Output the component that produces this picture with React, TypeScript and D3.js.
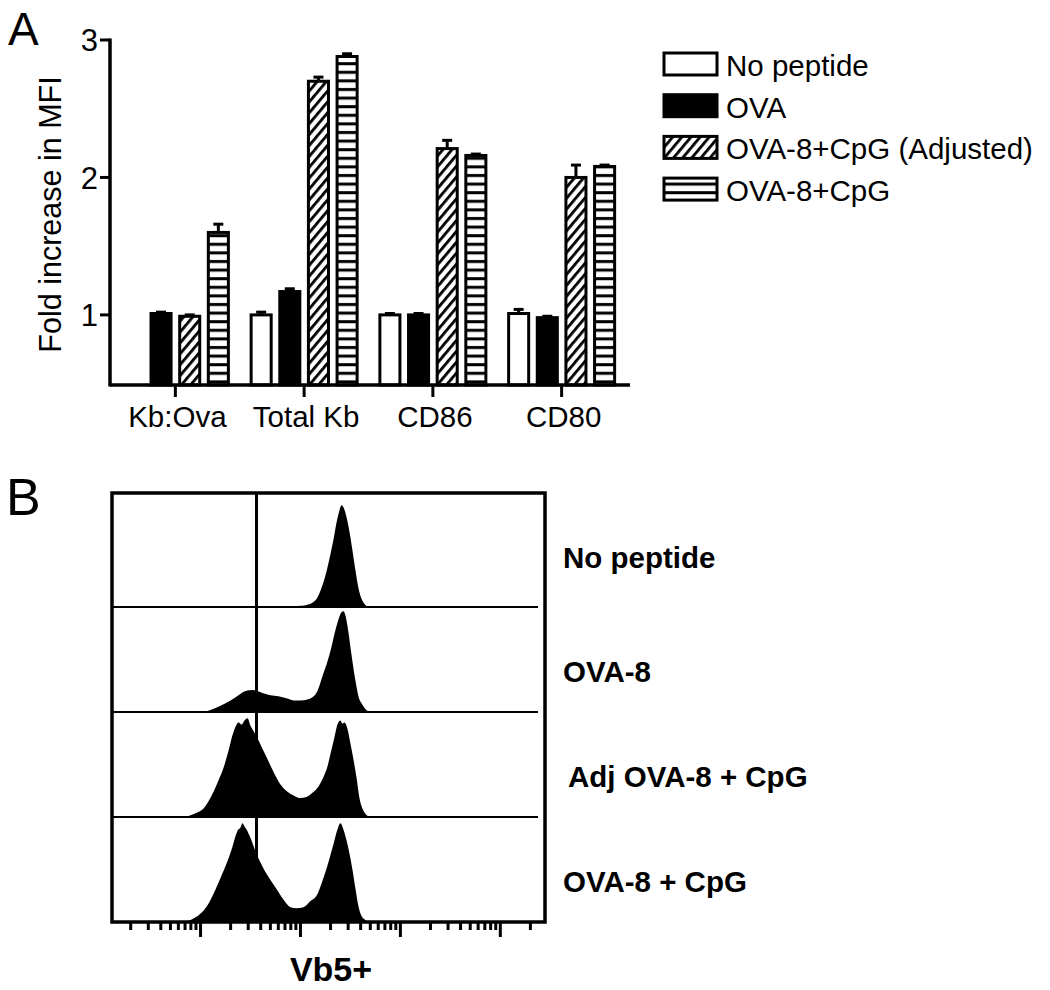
import React from "react";
import * as d3 from "d3";

// ---------- Panel A data ----------
const categories = ["Kb:Ova", "Total Kb", "CD86", "CD80"];
const seriesNames = ["No peptide", "OVA", "OVA-8+CpG (Adjusted)", "OVA-8+CpG"];
const noPeptide: (number | null)[] = [null, 1.0, 1.0, 1.01];
const noPeptideErr = [0, 0.02, 0.01, 0.03];
const ova = [1.01, 1.17, 1.0, 0.98];
const ovaErr = [0.01, 0.02, 0.01, 0.01];
const adjusted = [0.99, 2.7, 2.21, 2.0];
const adjustedErr = [0.01, 0.03, 0.06, 0.09];
const cpg = [1.6, 2.88, 2.16, 2.08];
const cpgErr = [0.06, 0.02, 0.01, 0.01];
const yTicks = [1, 2, 3];
const yLabel = "Fold increase in MFI";

// ---------- Panel B data (log10 intensity, relative count) ----------
const histLabels = ["No peptide", "OVA-8", "Adj OVA-8 + CpG", "OVA-8 + CpG"];
const histNoPeptide: [number, number][] = [
  [1.9, 0], [1.98, 1], [2.06, 2], [2.12, 4], [2.17, 9], [2.21, 18], [2.25, 30], [2.29, 46],
  [2.33, 64], [2.36, 80], [2.39, 92], [2.41, 97], [2.43, 95], [2.46, 86], [2.49, 72],
  [2.52, 54], [2.55, 35], [2.58, 18], [2.61, 8], [2.65, 2], [2.69, 0],
];
const histOva8: [number, number][] = [
  [1.02, 0], [1.1, 2], [1.2, 6], [1.3, 11], [1.38, 16], [1.45, 20], [1.52, 21], [1.57, 20],
  [1.62, 18], [1.7, 16], [1.78, 15], [1.86, 13], [1.93, 11], [2.0, 11], [2.07, 12], [2.12, 14],
  [2.17, 20], [2.22, 34], [2.27, 48], [2.31, 62], [2.35, 78], [2.38, 88], [2.41, 95], [2.43, 96],
  [2.45, 92], [2.48, 76], [2.51, 55], [2.55, 30], [2.58, 15], [2.62, 7], [2.66, 2], [2.69, 0],
];
const histAdjCpg: [number, number][] = [
  [0.78, 0], [0.88, 1], [0.96, 4], [1.03, 8], [1.08, 15], [1.13, 24], [1.18, 35], [1.23, 47],
  [1.28, 63], [1.32, 78], [1.35, 86], [1.38, 90], [1.41, 88], [1.44, 92], [1.47, 94], [1.5, 87],
  [1.53, 82], [1.57, 75], [1.62, 65], [1.68, 53], [1.74, 41], [1.8, 31], [1.87, 24], [1.94, 20],
  [2.0, 18], [2.06, 19], [2.12, 23], [2.18, 29], [2.23, 38], [2.27, 48], [2.3, 60], [2.34, 76],
  [2.37, 88], [2.4, 92], [2.42, 89], [2.44, 90], [2.47, 84], [2.5, 70], [2.53, 55], [2.56, 38],
  [2.59, 18], [2.62, 8], [2.66, 2], [2.7, 0],
];
const histCpg: [number, number][] = [
  [0.8, 0], [0.9, 2], [1.0, 8], [1.07, 16], [1.13, 27], [1.2, 42], [1.27, 58], [1.32, 72],
  [1.35, 82], [1.37, 87], [1.4, 90], [1.42, 94], [1.44, 91], [1.46, 88], [1.5, 80], [1.56, 65],
  [1.63, 51], [1.7, 40], [1.77, 30], [1.84, 20], [1.9, 14], [1.96, 13], [2.03, 14], [2.1, 20],
  [2.16, 25], [2.23, 42], [2.28, 57], [2.33, 74], [2.37, 88], [2.4, 94], [2.43, 88], [2.46, 78],
  [2.48, 70], [2.52, 50], [2.55, 32], [2.58, 15], [2.61, 6], [2.65, 2], [2.7, 0],
];
const gateLog10 = 1.56;
const xAxisLabel = "Vb5+";

const FONT = "'Liberation Sans', Arial, Helvetica, sans-serif";

export default function App() {
  // ---- Panel A scales ----
  const y = d3.scaleLinear().domain([0.49, 3]).range([385, 40]);
  const xCat = d3.scaleBand<string>().domain(categories).range([111, 626]);
  const xSer = d3.scaleBand<string>().domain(seriesNames).range([-53, 53]).paddingInner(0.3);
  const series = [
    { name: seriesNames[0], vals: noPeptide, errs: noPeptideErr, fill: "#fff" },
    { name: seriesNames[1], vals: ova, errs: ovaErr, fill: "#000" },
    { name: seriesNames[2], vals: adjusted, errs: adjustedErr, fill: "url(#hatch)" },
    { name: seriesNames[3], vals: cpg, errs: cpgErr, fill: "url(#hstripe)" },
  ];
  const y0 = y.domain()[0];
  const axisX0 = xCat.range()[0] - 1;
  const axisX1 = 630;

  // ---- Panel B scales ----
  const xLog = d3.scaleLog().domain([1.3, 28000]).range([112, 545]);
  const rows = d3.scalePoint<string>().domain(histLabels).range([607, 922]);
  const hScale = d3.scaleLinear().domain([0, 100]).range([0, 105]);
  const hists = [histNoPeptide, histOva8, histAdjCpg, histCpg];
  const boxTop = 493;
  const boxLeft = xLog.range()[0];
  const boxRight = xLog.range()[1];
  const boxBottom = rows(histLabels[3])!;
  const logTicks = xLog.ticks().filter((t) => xLog(t) > boxLeft + 10 && xLog(t) < boxRight - 5);

  return (
    <svg
      width={1050}
      height={990}
      style={{ position: "absolute", left: 0, top: 0, background: "#fff" }}
      fontFamily={FONT}
    >
      <defs>
        <pattern id="hatch" patternUnits="userSpaceOnUse" width={7} height={7} patternTransform="rotate(40)">
          <rect width={7} height={7} fill="#fff" />
          <rect width={2.8} height={7} fill="#000" />
        </pattern>
        <pattern id="hstripe" patternUnits="userSpaceOnUse" width={10} height={8.6}>
          <rect width={10} height={8.6} fill="#fff" />
          <rect y={2} width={10} height={3} fill="#000" />
        </pattern>
      </defs>
      <rect width={1050} height={990} fill="#fff" />

      {/* ---------- Panel A ---------- */}
      <text x={8} y={45} fontSize={46}>A</text>

      {/* bars */}
      {categories.map((c, ci) => {
        const cx = xCat(c)! + xCat.bandwidth() / 2;
        return (
          <g key={c}>
            {series.map((s) => {
              const v = s.vals[ci];
              if (v == null) return null;
              const bx = cx + xSer(s.name)!;
              const bw = xSer.bandwidth();
              const mid = bx + bw / 2;
              const e = s.errs[ci];
              return (
                <g key={s.name}>
                  <rect
                    x={bx}
                    y={y(v)}
                    width={bw}
                    height={y(y0) - y(v)}
                    fill={s.fill}
                    stroke="#000"
                    strokeWidth={3}
                  />
                  <line x1={mid} x2={mid} y1={y(v)} y2={y(v + e)} stroke="#000" strokeWidth={3} />
                  <line x1={mid - 5} x2={mid + 5} y1={y(v + e)} y2={y(v + e)} stroke="#000" strokeWidth={3} />
                </g>
              );
            })}
          </g>
        );
      })}

      {/* y axis */}
      <line x1={axisX0} x2={axisX0} y1={y(3) - 1.5} y2={y(y0) + 1.5} stroke="#000" strokeWidth={3.5} />
      {yTicks.map((t) => (
        <g key={t}>
          <line x1={axisX0 - 10} x2={axisX0} y1={y(t)} y2={y(t)} stroke="#000" strokeWidth={3} />
          <text x={axisX0 - 12} y={y(t)} dy="0.36em" textAnchor="end" fontSize={31}>
            {t}
          </text>
        </g>
      ))}
      <text
        transform={`translate(61, ${(y(3) + y(y0)) / 2 + 2}) rotate(-90)`}
        textAnchor="middle"
        fontSize={30.5}
      >
        {yLabel}
      </text>

      {/* x axis */}
      <line x1={axisX0} x2={axisX1} y1={y(y0)} y2={y(y0)} stroke="#000" strokeWidth={3.5} />
      {categories.map((c) => {
        const cx = xCat(c)! + xCat.bandwidth() / 2;
        return (
          <g key={c}>
            <line x1={cx} x2={cx} y1={y(y0)} y2={y(y0) + 12} stroke="#000" strokeWidth={3} />
            <text x={cx + 2} y={y(y0) + 42} textAnchor="middle" fontSize={29.5}>
              {c}
            </text>
          </g>
        );
      })}

      {/* legend */}
      {series.map((s, i) => {
        const ly = 53 + i * 41.7;
        return (
          <g key={s.name}>
            <rect x={664} y={ly} width={53} height={22} fill={s.fill} stroke="#000" strokeWidth={3} />
            <text x={726} y={ly + 23} fontSize={29.5}>
              {s.name}
            </text>
          </g>
        );
      })}

      {/* ---------- Panel B ---------- */}
      <text x={6} y={515} fontSize={52}>B</text>

      {/* baselines */}
      {histLabels.slice(0, 3).map((l) => (
        <line key={l} x1={boxLeft} x2={538} y1={rows(l)!} y2={rows(l)!} stroke="#000" strokeWidth={2} />
      ))}

      {/* histograms */}
      {hists.map((h, i) => {
        const base = rows(histLabels[i])!;
        const area = d3
          .area<[number, number]>()
          .x((d) => xLog(Math.pow(10, d[0])))
          .y0(base)
          .y1((d) => base - hScale(d[1]))
          .curve(d3.curveMonotoneX);
        return <path key={i} d={area(h) || ""} fill="#000" />;
      })}

      {/* gate line */}
      <line
        x1={xLog(Math.pow(10, gateLog10))}
        x2={xLog(Math.pow(10, gateLog10))}
        y1={boxTop}
        y2={boxBottom}
        stroke="#000"
        strokeWidth={3}
      />

      {/* frame */}
      <rect
        x={boxLeft}
        y={boxTop}
        width={boxRight - boxLeft}
        height={boxBottom - boxTop}
        fill="none"
        stroke="#000"
        strokeWidth={3.5}
      />

      {/* log axis ticks */}
      {logTicks.map((t, i) => {
        const major = Math.abs(Math.log10(t) - Math.round(Math.log10(t))) < 1e-6;
        return (
          <line
            key={i}
            x1={xLog(t)}
            x2={xLog(t)}
            y1={boxBottom}
            y2={boxBottom + (major ? 15 : 8)}
            stroke="#000"
            strokeWidth={3}
          />
        );
      })}
      <text x={331} y={981} textAnchor="middle" fontSize={34} fontWeight="bold">
        {xAxisLabel}
      </text>

      {/* row labels */}
      {histLabels.map((l, i) => (
        <text key={l} x={i === 2 ? 568 : 563} y={rows(l)! - (i === 0 ? 39 : 30)} fontSize={29.5} fontWeight="bold">
          {l}
        </text>
      ))}
    </svg>
  );
}
